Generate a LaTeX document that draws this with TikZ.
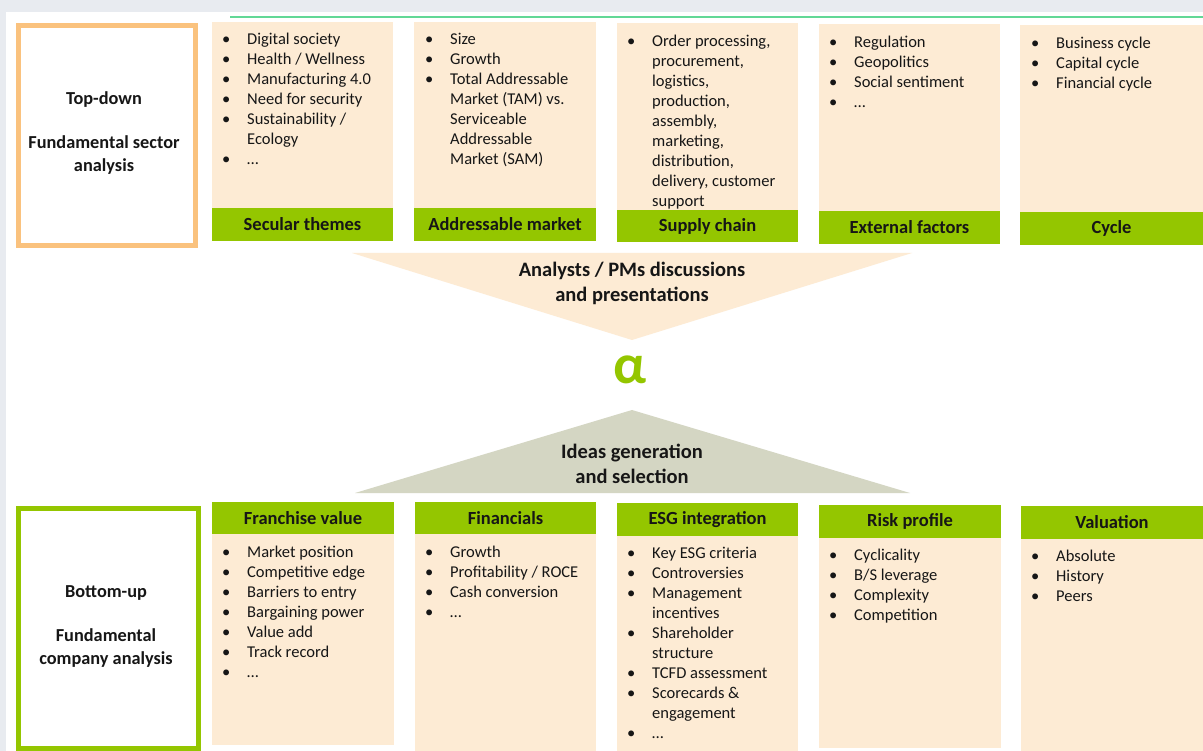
\documentclass[tikz,border=0pt]{standalone}
\usepackage{fontspec}
\setmainfont{Carlito}
\definecolor{peach}{HTML}{FDEBD4}
\definecolor{lime}{HTML}{94C600}
\definecolor{orangeb}{HTML}{FAC27E}
\definecolor{sage}{HTML}{D4D6C3}
\definecolor{bgray}{HTML}{E8EBF0}
\definecolor{mint}{HTML}{62D896}
\definecolor{txt}{HTML}{161616}
\newcommand{\bi}[1]{\makebox[25pt][l]{\textbullet}#1}
\newcommand{\ci}[1]{\hspace*{25pt}#1}
\tikzset{
  card/.style={fill=peach, anchor=north west, inner sep=0pt, outer sep=0pt},
  bar/.style={fill=lime, anchor=north west, inner sep=0pt, outer sep=0pt, text=txt,
    font=\fontsize{18.5}{20}\selectfont\bfseries},
  list/.style={anchor=north west, inner sep=0pt, align=left, text=txt,
    font=\fontsize{16.5}{20}\selectfont},
  frame/.style={line width=5pt, fill=white, anchor=north west, inner sep=0pt},
  title/.style={text=txt, inner sep=0pt, align=center, font=\fontsize{18.3}{23}\selectfont\bfseries},
  tritext/.style={text=txt, inner sep=0pt, align=center, font=\fontsize{20.5}{24.5}\selectfont\bfseries}
}
\begin{document}
\begin{tikzpicture}[x=1pt,y=-1pt]
\useasboundingbox (0,0) rectangle (1203,751);
\fill[white] (0,0) rectangle (1203,751);
\fill[bgray] (0,0) rectangle (1203,12);
\fill[bgray] (0,0) rectangle (6,751);
\coordinate (gl1) at (230,17);
\coordinate (gl2) at (1203,17);
\draw[mint, line width=2pt] (gl1) -- (gl2);

% left frames
\node[frame, draw=orangeb, minimum width=177pt, minimum height=220pt] (td) at (15.5,23.5) {};
\node[title] (tdt) at (104,100) {Top-down};
\node[title] (tds) at (104,155) {Fundamental sector\\analysis};
\node[frame, draw=lime, minimum width=180pt, minimum height=240pt] (bu) at (15.5,505.5) {};
\node[title] (but) at (106,593) {Bottom-up};
\node[title] (bus) at (106,648) {Fundamental\\company analysis};

% top row
\node[card, minimum width=181pt, minimum height=186pt] (c1) at (212,22) {};
\node[bar, minimum width=181pt, minimum height=33pt] (b1) at (212,208) {Secular themes};
\node[list] (l1) at (222,30) {\strut\bi{Digital society}\\\bi{Health / Wellness}\\\bi{Manufacturing 4.0}\\\bi{Need for security}\\\bi{Sustainability /}\\\ci{Ecology}\\\bi{…}};

\node[card, minimum width=182pt, minimum height=186pt] (c2) at (414,22) {};
\node[bar, minimum width=182pt, minimum height=33pt] (b2) at (414,208) {Addressable market};
\node[list] (l2) at (425,30) {\strut\bi{Size}\\\bi{Growth}\\\bi{Total Addressable}\\\ci{Market (TAM) vs.}\\\ci{Serviceable}\\\ci{Addressable}\\\ci{Market (SAM)}};

\node[card, minimum width=181pt, minimum height=187pt] (c3) at (617,23) {};
\node[bar, minimum width=181pt, minimum height=32pt] (b3) at (617,210) {Supply chain};
\node[list] (l3) at (627,32) {\strut\bi{Order processing,}\\\ci{procurement,}\\\ci{logistics,}\\\ci{production,}\\\ci{assembly,}\\\ci{marketing,}\\\ci{distribution,}\\\ci{delivery, customer}\\\ci{support}};

\node[card, minimum width=181pt, minimum height=187pt] (c4) at (819,24) {};
\node[bar, minimum width=181pt, minimum height=33pt] (b4) at (819,211) {External factors};
\node[list] (l4) at (829,33) {\strut\bi{Regulation}\\\bi{Geopolitics}\\\bi{Social sentiment}\\\bi{…}};

\node[card, minimum width=183pt, minimum height=187pt] (c5) at (1020,25) {};
\node[bar, minimum width=183pt, minimum height=33pt] (b5) at (1020,212) {Cycle};
\node[list] (l5) at (1031,34) {\strut\bi{Business cycle}\\\bi{Capital cycle}\\\bi{Financial cycle}};

% middle
\fill[peach] (352,253) -- (912,253) -- (632,340) -- cycle;
\node[tritext] (an) at (632,283.5) {Analysts / PMs discussions\\and presentations};
\node[text=lime, inner sep=0pt, font=\fontsize{56}{60}\selectfont\bfseries] (alpha) at (630,370) {α};
\fill[sage] (632,410) -- (910,493) -- (355,493) -- cycle;
\node[tritext] (id) at (632,464) {Ideas generation\\and selection};

% bottom row
\node[bar, minimum width=182pt, minimum height=32pt] (d1) at (212,502) {Franchise value};
\node[card, minimum width=182pt, minimum height=211pt] (e1) at (212,534) {};
\node[list] (m1) at (222,543) {\strut\bi{Market position}\\\bi{Competitive edge}\\\bi{Barriers to entry}\\\bi{Bargaining power}\\\bi{Value add}\\\bi{Track record}\\\bi{…}};

\node[bar, minimum width=181pt, minimum height=32pt] (d2) at (415,502) {Financials};
\node[card, minimum width=181pt, minimum height=217pt] (e2) at (415,534) {};
\node[list] (m2) at (425,543) {\strut\bi{Growth}\\\bi{Profitability / ROCE}\\\bi{Cash conversion}\\\bi{…}};

\node[bar, minimum width=181pt, minimum height=33pt] (d3) at (617,503) {ESG integration};
\node[card, minimum width=181pt, minimum height=215pt] (e3) at (617,536) {};
\node[list] (m3) at (627,544) {\strut\bi{Key ESG criteria}\\\bi{Controversies}\\\bi{Management}\\\ci{incentives}\\\bi{Shareholder}\\\ci{structure}\\\bi{TCFD assessment}\\\bi{Scorecards \&}\\\ci{engagement}\\\bi{…}};

\node[bar, minimum width=182pt, minimum height=33pt] (d4) at (819,505) {Risk profile};
\node[card, minimum width=182pt, minimum height=210pt] (e4) at (819,538) {};
\node[list] (m4) at (829,546) {\strut\bi{Cyclicality}\\\bi{B/S leverage}\\\bi{Complexity}\\\bi{Competition}};

\node[bar, minimum width=182pt, minimum height=33pt] (d5) at (1021,506) {Valuation};
\node[card, minimum width=182pt, minimum height=212pt] (e5) at (1021,539) {};
\node[list] (m5) at (1031,547) {\strut\bi{Absolute}\\\bi{History}\\\bi{Peers}};
\end{tikzpicture}
\end{document}
